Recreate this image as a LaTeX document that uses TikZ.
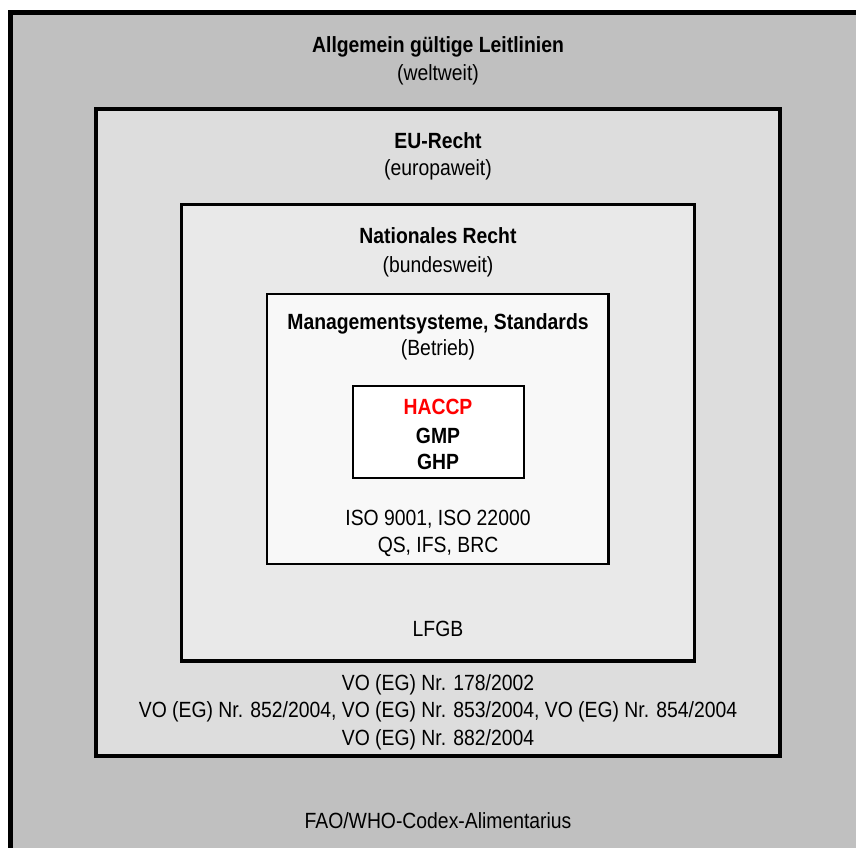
\documentclass[tikz,border=0pt]{standalone}
\usepackage{fontspec}
\setmainfont[FakeStretch=0.88]{Liberation Sans}
\definecolor{fillWorld}{RGB}{192,192,192}
\definecolor{fillEU}{RGB}{221,221,221}
\definecolor{fillNat}{RGB}{233,233,233}
\definecolor{fillMgmt}{RGB}{248,248,248}
\definecolor{hred}{RGB}{255,0,0}
\begin{document}
\begin{tikzpicture}[x=1pt,y=-1pt,
  frame/.style={draw=black, anchor=north west, inner sep=0pt, outer sep=0pt},
  lbl/.style={anchor=base, inner sep=0pt, font=\fontsize{22}{26}\selectfont},
  ttl/.style={anchor=base, inner sep=0pt, font=\fontsize{22}{26}\selectfont\bfseries}]
\useasboundingbox (0,0) rectangle (856,847);
\clip (0,0) rectangle (856,847);
\fill[white] (0,0) rectangle (856,847);
% nested frames
\node[frame, fill=fillWorld, line width=5pt, minimum width=855.5pt, minimum height=840.5pt] (world) at (10.5,12.5) {};
\node[frame, fill=fillEU, line width=4.3pt, minimum width=684pt, minimum height=647pt] (eu) at (96,109) {};
\node[frame, fill=fillNat, line width=3.5pt, minimum width=513pt, minimum height=456.5pt] (nat) at (181.5,204.5) {};
\node[frame, fill=fillMgmt, line width=2.5pt, minimum width=341.5pt, minimum height=270pt] (mgmt) at (267,294) {};
\node[frame, fill=white, line width=2pt, minimum width=171pt, minimum height=91.5pt] (core) at (352.5,386) {};
% world texts
\node[ttl] (worldT) at (438,52) {Allgemein gültige Leitlinien};
\node[lbl] (worldS) at (438,80) {(weltweit)};
\node[lbl] (codex) at (438,828) {FAO/WHO-Codex-Alimentarius};
% EU texts
\node[ttl] (euT) at (438,148) {EU-Recht};
\node[lbl] (euS) at (438,175) {(europaweit)};
\node[lbl] (vo1) at (438,690) {VO (EG) Nr. 178/2002};
\node[lbl] (vo2) at (438,717) {VO (EG) Nr. 852/2004, VO (EG) Nr. 853/2004, VO (EG) Nr. 854/2004};
\node[lbl] (vo3) at (438,745) {VO (EG) Nr. 882/2004};
% national texts
\node[ttl] (natT) at (438,243) {Nationales Recht};
\node[lbl] (natS) at (438,272) {(bundesweit)};
\node[lbl] (lfgb) at (438,636) {LFGB};
% management texts
\node[ttl] (mgmtT) at (438,329) {Managementsysteme, Standards};
\node[lbl] (mgmtS) at (438,355) {(Betrieb)};
\node[lbl] (iso) at (438,525) {ISO 9001, ISO 22000};
\node[lbl] (qs) at (438,552) {QS, IFS, BRC};
% core texts
\node[ttl, text=hred] (haccp) at (438,414) {HACCP};
\node[ttl] (gmp) at (438,443) {GMP};
\node[ttl] (ghp) at (438,469) {GHP};
\end{tikzpicture}
\end{document}
